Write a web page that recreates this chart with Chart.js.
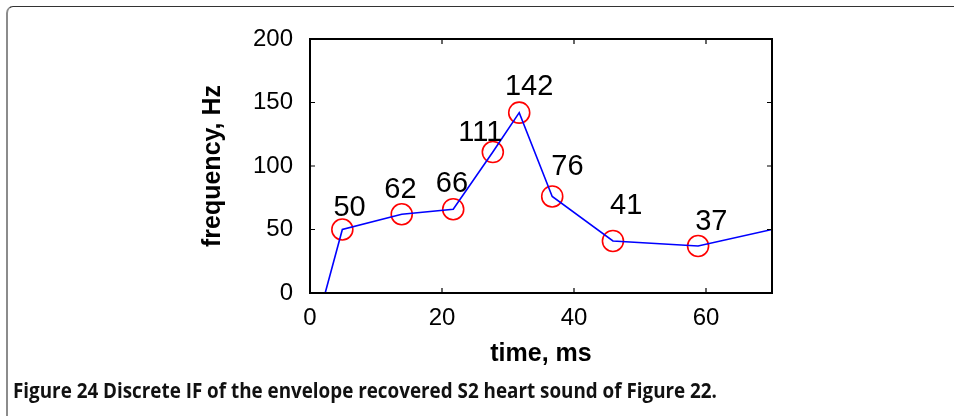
<!DOCTYPE html>
<html>
<head>
<meta charset="utf-8">
<script src="https://cdn.jsdelivr.net/npm/chart.js@4.4.1/dist/chart.umd.min.js"></script>
<style>
  html, body { margin: 0; padding: 0; background: #fff; width: 954px; height: 416px; overflow: hidden; }
  #wrap { position: relative; width: 954px; height: 416px; }
  #frame { position: absolute; left: 6px; top: 6px; width: 1200px; height: 1200px;
           border-top: 1px solid #333; border-left: 2px solid #8c8c8c; border-top-left-radius: 7px; box-sizing: border-box; }
  canvas { position: absolute; left: 0; top: 0; }
  #caption { position: absolute; left: 13px; top: 376px; white-space: nowrap;
             font-family: 'Liberation Sans Narrow', 'Open Sans', 'Liberation Sans', sans-serif; font-weight: 700;
             font-size: 21px; color: #111; transform-origin: 0 0; }
</style>
</head>
<body>
<div id="wrap">
  <div id="frame"></div>
  <canvas id="c" width="954" height="416"></canvas>
  <div id="caption">Figure 24 Discrete IF of the envelope recovered S2 heart sound of Figure 22.</div>
</div>
<script>
// ---- data ----
const timeMs   = [4.9, 13.9, 21.7, 27.7, 31.7, 36.7, 45.9, 58.8];   // marked samples, ms
const freqHz   = [50, 62, 66, 111, 142, 76, 41, 37];               // instantaneous frequency, Hz
const lineTime = [2.3, 4.9, 13.9, 21.7, 27.7, 31.7, 36.7, 45.9, 58.8, 70];
const lineFreq = [0, 50, 62, 66, 111, 142, 76, 41, 37, 50];
// where each value label sits (data units, like MATLAB text(x,y,...))
const labelTime = [6.0, 13.7, 21.5, 25.8, 33.2, 39.0, 47.9, 60.8];
const labelFreq = [60.3, 75.0, 79.2, 119.4, 156.1, 93.1, 62.2, 49.8];
const xTicks = [0, 20, 40, 60];
const yTicks = [0, 50, 100, 150, 200];

Chart.defaults.font.family = "'Liberation Sans', Arial, Helvetica, sans-serif";
Chart.defaults.color = '#000';

const boxPlugin = {
  id: 'boxTicks',
  afterDraw(chart) {
    const {ctx, chartArea: a, scales: {x, y}} = chart;
    ctx.save();
    ctx.strokeStyle = '#000';
    ctx.lineWidth = 1.2;
    const tl = 5;
    ctx.beginPath();
    x.ticks.forEach(t => {
      if (t.value <= x.min || t.value >= x.max) return;
      const px = x.getPixelForValue(t.value);
      ctx.moveTo(px, a.bottom); ctx.lineTo(px, a.bottom - tl);
      ctx.moveTo(px, a.top); ctx.lineTo(px, a.top + tl);
    });
    y.ticks.forEach(t => {
      if (t.value <= y.min || t.value >= y.max) return;
      const py = y.getPixelForValue(t.value);
      ctx.moveTo(a.left, py); ctx.lineTo(a.left + tl, py);
      ctx.moveTo(a.right, py); ctx.lineTo(a.right - tl, py);
    });
    ctx.stroke();
    ctx.lineWidth = 2;
    ctx.strokeRect(a.left, a.top, a.right - a.left, a.bottom - a.top);
    ctx.restore();
  }
};

const labelPlugin = {
  id: 'valueLabels',
  afterDatasetsDraw(chart) {
    const {ctx, scales: {x, y}} = chart;
    ctx.save();
    ctx.fillStyle = '#000';
    ctx.font = "29px 'Liberation Sans', Arial, sans-serif";
    ctx.textAlign = 'center';
    ctx.textBaseline = 'alphabetic';
    freqHz.forEach((v, i) => {
      ctx.fillText(String(v), x.getPixelForValue(labelTime[i]), y.getPixelForValue(labelFreq[i]));
    });
    ctx.restore();
  }
};

new Chart(document.getElementById('c'), {
  type: 'scatter',
  data: {
    datasets: [
      {
        label: 'IF',
        data: lineTime.map((t, i) => ({x: t, y: lineFreq[i]})),
        showLine: true,
        borderColor: '#0000ff',
        borderWidth: 1.6,
        pointRadius: 0,
        fill: false,
        tension: 0
      },
      {
        label: 'samples',
        data: timeMs.map((t, i) => ({x: t, y: freqHz[i]})),
        showLine: false,
        pointRadius: 10.5,
        pointBorderColor: '#ff0000',
        pointBackgroundColor: 'rgba(0,0,0,0)',
        pointBorderWidth: 1.6
      }
    ]
  },
  options: {
    responsive: false,
    animation: false,
    devicePixelRatio: 1,
    layout: { padding: { left: 0, top: 39, right: 182, bottom: 0 } },
    plugins: { legend: { display: false }, tooltip: { enabled: false } },
    scales: {
      x: {
        type: 'linear', min: 0, max: 70,
        grid: { display: false, drawTicks: false },
        border: { display: false },
        ticks: { stepSize: 20, includeBounds: false, padding: 11, color: '#000', font: { size: 24 } },
        afterBuildTicks: s => { s.ticks = xTicks.map(v => ({value: v})); },
        title: { display: true, text: 'time, ms', color: '#000', font: { size: 25, weight: 'bold' }, padding: { top: 0, bottom: 47 } },
        afterFit: s => { s.height = 123; }
      },
      y: {
        type: 'linear', min: 0, max: 200,
        grid: { display: false, drawTicks: false },
        border: { display: false },
        ticks: { stepSize: 50, padding: 17, color: '#000', font: { size: 24 } },
        afterBuildTicks: s => { s.ticks = yTicks.map(v => ({value: v})); },
        title: { display: true, text: 'frequency, Hz', color: '#000', font: { size: 25, weight: 'bold' }, padding: { top: 198, bottom: 0 } },
        afterFit: s => { s.width = 310; }
      }
    }
  },
  plugins: [boxPlugin, labelPlugin]
});

// fit caption to the measured width of the reference caption line
(function () {
  const cap = document.getElementById('caption');
  const target = 704;
  const w = cap.getBoundingClientRect().width;
  if (w > 0) cap.style.transform = 'scaleX(' + (target / w) + ')';
})();
</script>
</body>
</html>
